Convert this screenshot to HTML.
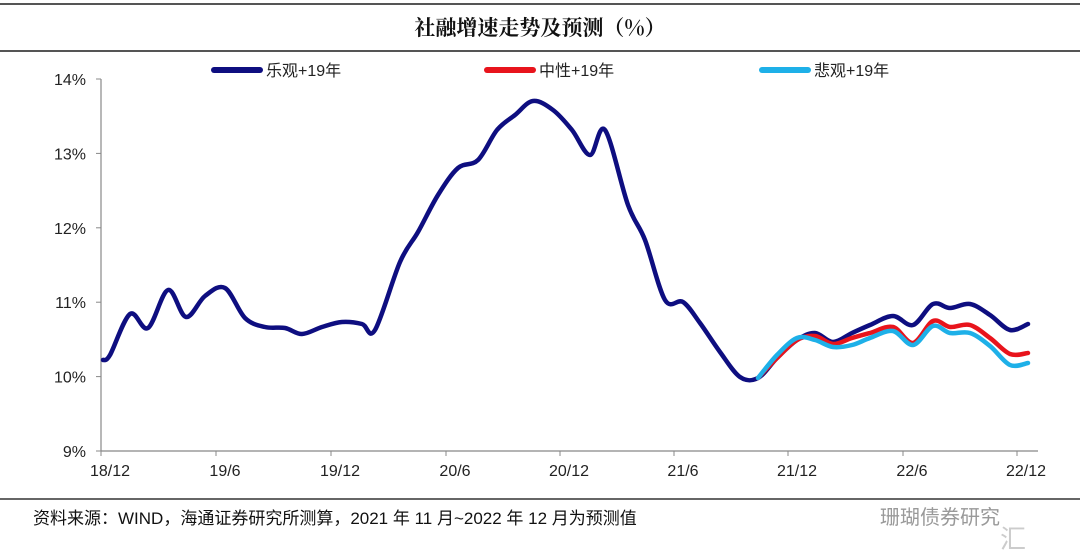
<!DOCTYPE html>
<html><head><meta charset="utf-8"><style>
body{margin:0;background:#fff;}
svg{display:block;font-family:"Liberation Sans","Noto Sans CJK SC",sans-serif;}
</style></head><body>
<svg id="s" width="1080" height="560" viewBox="0 0 1080 560">
<line x1="0" y1="4" x2="1080" y2="4" stroke="#555" stroke-width="2"/>
<line x1="0" y1="51" x2="1080" y2="51" stroke="#555" stroke-width="2"/>
<text x="540" y="35" text-anchor="middle" font-size="21" font-weight="bold" fill="#111" font-family="'Noto Serif CJK SC','Noto Sans CJK SC',serif">社融增速走势及预测（%）</text>
<g stroke-linecap="round" stroke-width="6">
<line x1="214" y1="70" x2="260" y2="70" stroke="#0e0e80"/>
<line x1="487" y1="70" x2="533" y2="70" stroke="#e8141c"/>
<line x1="762" y1="70" x2="808" y2="70" stroke="#1eb0e8"/>
</g>
<g font-size="16" fill="#222">
<text x="266" y="76">乐观+19年</text>
<text x="539" y="76">中性+19年</text>
<text x="814" y="76">悲观+19年</text>
</g>
<g stroke="#888" stroke-width="1.2">
<line x1="101" y1="79" x2="101" y2="451"/>
<line x1="101" y1="451" x2="1038" y2="451"/>
</g>
<g id="yt" font-size="16" fill="#222" text-anchor="end"></g>
<g id="xt" font-size="16" fill="#222" text-anchor="middle"></g>
<g id="lines" fill="none" stroke-linejoin="round" stroke-linecap="round" stroke-width="4.5"></g>
<line x1="0" y1="499" x2="1080" y2="499" stroke="#333" stroke-width="1.5"/>
<text x="33" y="524" font-size="17" fill="#111">资料来源：WIND，海通证券研究所测算，2021 年 11 月~2022 年 12 月为预测值</text>
<text x="880" y="524" font-size="20" fill="#999">珊瑚债券研究</text>
<text x="1000" y="548" font-size="26" fill="#ccc">汇</text>
</svg>
<script>
var ns="http://www.w3.org/2000/svg";
function el(t,a,p,txt){var e=document.createElementNS(ns,t);for(var k in a)e.setAttribute(k,a[k]);if(txt)e.textContent=txt;document.getElementById(p).appendChild(e);return e;}
var yt=document.getElementById("yt");
for(var v=9;v<=14;v++){var y=451-(v-9)*74.4;
 el("line",{x1:96,y1:y,x2:101,y2:y,stroke:"#888"},"yt");
 el("text",{x:86,y:y+6},"yt",v+"%");}
var labs=["18/12","19/6","19/12","20/6","20/12","21/6","21/12","22/6","22/12"];
var tx=[101,216,331,446,560,674,788,903,1017];
for(var i=0;i<9;i++){el("line",{x1:tx[i],y1:451,x2:tx[i],y2:456,stroke:"#888"},"xt");
 el("text",{x:tx[i]+9,y:476},"xt",labs[i]);}
var navy=[[103,360],[110,355],[130,314],[148,328],[168,290],[186,317],[205,296],[225,288],[245,318],[265,327],[285,328],[302,334],[322,327],[342,322],[362,324],[375,330],[400,262],[418,232],[438,195],[458,168],[478,160],[497,130],[515,115],[533,101],[553,110],[572,130],[590,155],[605,130],[628,205],[645,240],[665,300],[683,302],[700,323],[720,352],[740,377],[758,378],[777,358],[797,340],[815,333],[833,342],[852,333],[870,325],[893,316],[913,325],[933,304],[950,308],[970,304],[990,315],[1010,330],[1028,324]];
var red=[[758,378],[777,358],[797,340],[815,336],[833,344],[852,338],[870,333],[893,327],[913,343],[933,321],[950,327],[970,325],[990,338],[1010,354],[1028,353]];
var blue=[[758,378],[777,355],[797,338],[815,340],[833,347],[852,345],[870,338],[893,331],[913,345],[933,326],[950,333],[970,333],[990,346],[1010,365],[1028,363]];
function path(p){var d="M"+p[0][0]+","+p[0][1];
 for(var i=0;i<p.length-1;i++){var p0=p[i-1]||p[i],p1=p[i],p2=p[i+1],p3=p[i+2]||p2;
  var c1x=p1[0]+(p2[0]-p0[0])/6,c1y=p1[1]+(p2[1]-p0[1])/6,c2x=p2[0]-(p3[0]-p1[0])/6,c2y=p2[1]-(p3[1]-p1[1])/6;
  d+=" C"+c1x+","+c1y+" "+c2x+","+c2y+" "+p2[0]+","+p2[1];}
 return d;}
el("path",{d:path(navy),stroke:"#0e0e80"},"lines");
el("path",{d:path(red),stroke:"#e8141c"},"lines");
el("path",{d:path(blue),stroke:"#1eb0e8"},"lines");
</script>
</body></html>
